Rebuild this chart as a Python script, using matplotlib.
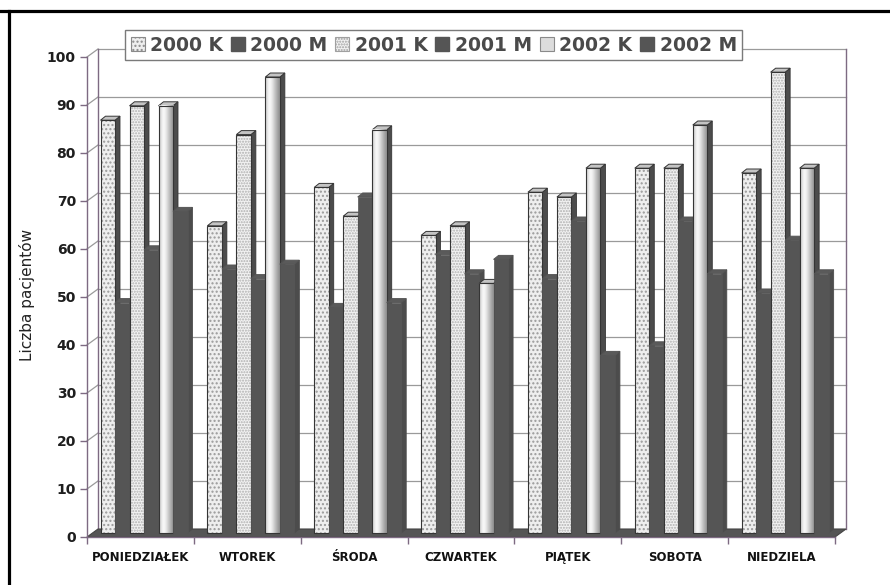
import numpy as np
import matplotlib
matplotlib.use("Agg")
import matplotlib.pyplot as plt
from matplotlib.patches import Polygon, Patch
from matplotlib.lines import Line2D

# ---- data -------------------------------------------------------------
days = ["PONIEDZIAŁEK", "WTOREK", "ŚRODA", "CZWARTEK", "PIĄTEK", "SOBOTA", "NIEDZIELA"]
series_labels = ["2000 K", "2000 M", "2001 K", "2001 M", "2002 K", "2002 M"]
k2000 = [86, 64, 72, 62, 71, 76, 75]
m2000 = [48, 55, 47, 58, 53, 39, 50]
k2001 = [89, 83, 66, 64, 70, 76, 96]
m2001 = [59, 53, 70, 54, 65, 65, 61]
k2002 = [89, 95, 84, 52, 76, 85, 76]
m2002 = [67, 56, 48, 57, 37, 54, 54]
y_ticks = [0, 10, 20, 30, 40, 50, 60, 70, 80, 90, 100]
y_label = "Liczba pacjentów"

series_values = [k2000, m2000, k2001, m2001, k2002, m2002]

# ---- geometry of the pseudo-3D box -------------------------------------
W_PX, H_PX = 890, 585
AX_L, AX_R, AX_B, AX_T = 87, 835, 537, 57          # front plane in pixels
n_cat = len(days)
px_x = (AX_R - AX_L) / n_cat                       # pixels per category
px_y = (AX_B - AX_T) / 100.0                       # pixels per unit

WALL_DX, WALL_DY = 11 / px_x, 8 / px_y             # depth of the floor
BAR_W = 14.5 / px_x
BAR_OFF = 13.5 / px_x
BAR_BASE = 4 / px_y
DX, DY = 5 / px_x, 4 / px_y                        # depth of each column

AXIS_C = "#7d6a82"
GRID_C = "#9a9a9a"
EDGE_C = "#353535"
DARK = "#555555"
SIDE = "#4c4c4c"

plt.rcParams["hatch.linewidth"] = 1.0

fig = plt.figure(figsize=(W_PX / 100, H_PX / 100), dpi=100)
fig.patch.set_facecolor("white")
ax = fig.add_axes([AX_L / W_PX, (H_PX - AX_B) / H_PX,
                   (AX_R - AX_L) / W_PX, (AX_B - AX_T) / H_PX])
ax.set_xlim(0, n_cat)
ax.set_ylim(0, 100)
ax.set_facecolor("none")

# back wall
top = 100 + WALL_DY
ax.add_patch(Polygon([(WALL_DX, WALL_DY), (n_cat + WALL_DX, WALL_DY),
                      (n_cat + WALL_DX, top), (WALL_DX, top)],
                     closed=True, fc="white", ec="none", zorder=0.5, clip_on=False))
for v in y_ticks[1:]:
    ax.plot([WALL_DX, n_cat + WALL_DX], [v + WALL_DY, v + WALL_DY],
            color=GRID_C, lw=0.9, zorder=1, clip_on=False)
    ax.plot([0, WALL_DX], [v, v + WALL_DY], color=GRID_C, lw=0.9, zorder=1, clip_on=False)
ax.plot([WALL_DX, WALL_DX], [WALL_DY, top], color=AXIS_C, lw=1.0, zorder=1.2, clip_on=False)
ax.plot([n_cat + WALL_DX, n_cat + WALL_DX], [WALL_DY, top], color=AXIS_C, lw=1.0,
        zorder=1.2, clip_on=False)

# floor
ax.add_patch(Polygon([(0, 0), (n_cat, 0), (n_cat + WALL_DX, WALL_DY), (WALL_DX, WALL_DY)],
                     closed=True, fc=DARK, ec="#444444", lw=0.8, zorder=2, clip_on=False))

# ---- columns ----------------------------------------------------------
cat_x = np.arange(n_cat)
styles = [
    dict(kind="dots", fc="#eeeeee", hatch="....", hc="#9a9a9a"),
    dict(kind="dark"),
    dict(kind="dots", fc="#f2f2f2", hatch="......", hc="#b0b0b0"),
    dict(kind="dark"),
    dict(kind="grad"),
    dict(kind="dark"),
]

grad_profile = np.array([[0.80, 0.86, 0.93, 0.97, 0.96, 0.92, 0.86, 0.80, 0.74, 0.68, 0.62, 0.58]])

for j, (vals, st) in enumerate(zip(series_values, styles)):
    z = 3 + j
    xs = cat_x + BAR_OFF + j * BAR_W
    vals = np.asarray(vals, dtype=float)
    dark = st["kind"] == "dark"
    # side and top faces
    for x0, v in zip(xs, vals):
        x1 = x0 + BAR_W
        y0, y1 = BAR_BASE, BAR_BASE + v
        ax.add_patch(Polygon([(x1, y0), (x1 + DX, y0 + DY), (x1 + DX, y1 + DY), (x1, y1)],
                             closed=True, fc=SIDE, ec=EDGE_C if not dark else SIDE,
                             lw=0.6, zorder=z, clip_on=False))
        ax.add_patch(Polygon([(x0, y1), (x1, y1), (x1 + DX, y1 + DY), (x0 + DX, y1 + DY)],
                             closed=True, fc="#5a5a5a" if dark else "#c4c4c4",
                             ec=EDGE_C if not dark else DARK, lw=0.7, zorder=z, clip_on=False))
    # front faces
    if dark:
        ax.bar(xs, vals, width=BAR_W, bottom=BAR_BASE, align="edge",
               color=DARK, edgecolor=DARK, lw=0.5, zorder=z)
    elif st["kind"] == "dots":
        ax.bar(xs, vals, width=BAR_W, bottom=BAR_BASE, align="edge",
               color=st["fc"], edgecolor=st["hc"], hatch=st["hatch"], lw=0, zorder=z)
        ax.bar(xs, vals, width=BAR_W, bottom=BAR_BASE, align="edge",
               fill=False, edgecolor=EDGE_C, lw=0.8, zorder=z + 0.1)
    else:
        bars = ax.bar(xs, vals, width=BAR_W, bottom=BAR_BASE, align="edge",
                      fill=False, edgecolor=EDGE_C, lw=0.8, zorder=z + 0.1)
        for b in bars:
            ax.imshow(grad_profile, extent=[b.get_x(), b.get_x() + b.get_width(),
                                            b.get_y(), b.get_y() + b.get_height()],
                      cmap="gray", vmin=0, vmax=1, aspect="auto",
                      interpolation="bicubic", zorder=z)

ax.set_xlim(0, n_cat)
ax.set_ylim(0, 100)

# ---- axes, ticks, labels -----------------------------------------------
for s in ["top", "right"]:
    ax.spines[s].set_visible(False)
for s in ["left", "bottom"]:
    ax.spines[s].set_color(AXIS_C)
    ax.spines[s].set_linewidth(1.0)
    ax.spines[s].set_zorder(2.5)

ax.set_yticks(y_ticks)
ax.set_yticklabels([str(v) for v in y_ticks])
ax.tick_params(axis="y", length=5, width=1.0, color=AXIS_C, pad=3,
               labelsize=10, labelcolor="#1e1e1e")
for lbl in ax.get_yticklabels():
    lbl.set_fontweight("bold")

ax.set_xticks(np.arange(n_cat + 1))
ax.set_xticklabels([])
ax.set_xticks(cat_x + 0.5, minor=True)
ax.set_xticklabels(days, minor=True, fontsize=8.5, fontweight="bold", color="#111111")
ax.tick_params(axis="x", which="major", length=5, width=1.0, color=AXIS_C)
ax.tick_params(axis="x", which="minor", length=0, pad=10)

fig.text(27 / W_PX, 1 - 295 / H_PX, y_label, rotation=90, ha="center", va="center",
         fontsize=11, color="#222222")

# ---- legend ------------------------------------------------------------
handles = [
    Patch(facecolor="#eeeeee", edgecolor="#8a8a8a", hatch="....", lw=0.8),
    Patch(facecolor=DARK, edgecolor=DARK),
    Patch(facecolor="#f2f2f2", edgecolor="#a0a0a0", hatch="......", lw=0.8),
    Patch(facecolor=DARK, edgecolor=DARK),
    Patch(facecolor="#dcdcdc", edgecolor="#8a8a8a", lw=0.8),
    Patch(facecolor=DARK, edgecolor=DARK),
]
leg = fig.legend(handles, series_labels, loc="upper left", ncol=6,
                 bbox_to_anchor=(125 / W_PX, 1 - 30 / H_PX),
                 prop={"weight": "bold", "size": 13.5}, labelcolor="#4a4a4a",
                 frameon=True, fancybox=False, framealpha=1, edgecolor="#7a7a7a",
                 borderpad=0.3, handlelength=0.75, handleheight=0.75,
                 handletextpad=0.3, columnspacing=0.4, borderaxespad=0)
leg.get_frame().set_linewidth(1.0)
leg.set_zorder(20)

# ---- outer frame -------------------------------------------------------
fig.add_artist(Line2D([0, 1], [1 - 11 / H_PX, 1 - 11 / H_PX], transform=fig.transFigure,
                      color="black", lw=2.3))
fig.add_artist(Line2D([9 / W_PX, 9 / W_PX], [0, 1 - 11 / H_PX], transform=fig.transFigure,
                      color="black", lw=2.3))

fig.savefig("out.png", dpi=100)
